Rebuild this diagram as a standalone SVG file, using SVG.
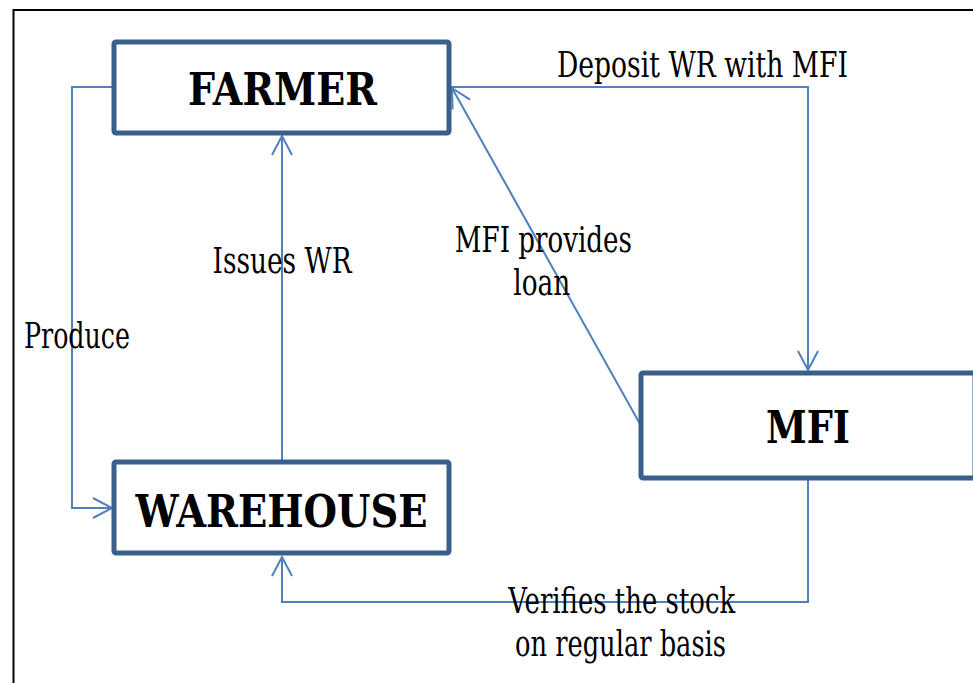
<svg xmlns="http://www.w3.org/2000/svg" width="973" height="683" viewBox="0 0 973 683">
  <style>
    .frame { fill: none; stroke: #000; stroke-width: 2; }
    .box { fill: #fff; stroke: #3A5F8B; stroke-width: 5; }
    .link { fill: none; stroke: #4F81BD; stroke-width: 2; }
    .serif { font-family: 'DejaVu Serif', 'Liberation Serif', serif; fill: #000; text-anchor: middle; }
  </style>
  <defs>
    <marker id="open-arrow" markerUnits="userSpaceOnUse" viewBox="-22 -12 24 24" markerWidth="24" markerHeight="24" refX="0" refY="0" orient="auto">
      <path d="M-19,-10 L0,0 L-19,10" fill="none" stroke="#4F81BD" stroke-width="2"/>
    </marker>
  </defs>

  <rect width="973" height="683" fill="#fff"/>
  <path class="frame" d="M13.5,683 V10 H973"/>

  <!-- connectors -->
  <g id="connectors">
    <path class="link" d="M114,87 H72 V508 H112" marker-end="url(#open-arrow)"/>
    <path class="link" d="M282,462 V136" marker-end="url(#open-arrow)"/>
    <path class="link" d="M451,87 H808 V370" marker-end="url(#open-arrow)"/>
    <path class="link" d="M640,424 L452,88" marker-end="url(#open-arrow)"/>
    <path class="link" d="M808,478 V602 H282 V557" marker-end="url(#open-arrow)"/>
  </g>

  <!-- nodes -->
  <g class="serif" font-weight="bold" font-size="37">
    <g id="farmer">
      <rect class="box" x="114" y="42" width="335" height="91" rx="2"/>
      <text transform="translate(282.5,105) scale(1,1.2)" textLength="189" lengthAdjust="spacingAndGlyphs">FARMER</text>
    </g>
    <g id="warehouse">
      <rect class="box" x="114" y="462" width="335" height="91" rx="2"/>
      <text transform="translate(281.5,526.7) scale(1,1.2)" textLength="292" lengthAdjust="spacingAndGlyphs">WAREHOUSE</text>
    </g>
    <g id="mfi">
      <rect class="box" x="641" y="373" width="334" height="105" rx="2"/>
      <text transform="translate(808,443.3) scale(1,1.2)" textLength="84" lengthAdjust="spacingAndGlyphs">MFI</text>
    </g>
  </g>

  <!-- connector labels -->
  <g id="labels" class="serif" font-size="29">
    <text transform="translate(702.5,76.7) scale(1,1.2)" textLength="291" lengthAdjust="spacingAndGlyphs">Deposit WR with MFI</text>
    <text transform="translate(282,272.7) scale(1,1.2)" textLength="139" lengthAdjust="spacingAndGlyphs">Issues WR</text>
    <text transform="translate(77,348.3) scale(1,1.2)" textLength="106" lengthAdjust="spacingAndGlyphs">Produce</text>
    <text transform="translate(543.3,252.3) scale(1,1.2)" textLength="177" lengthAdjust="spacingAndGlyphs">MFI provides</text>
    <text transform="translate(541.7,295) scale(1,1.2)" textLength="57" lengthAdjust="spacingAndGlyphs">loan</text>
    <text transform="translate(621.7,613.3) scale(1,1.2)" textLength="227" lengthAdjust="spacingAndGlyphs">Verifies the stock</text>
    <text transform="translate(620.5,656) scale(1,1.2)" textLength="211" lengthAdjust="spacingAndGlyphs">on regular basis</text>
  </g>
</svg>
